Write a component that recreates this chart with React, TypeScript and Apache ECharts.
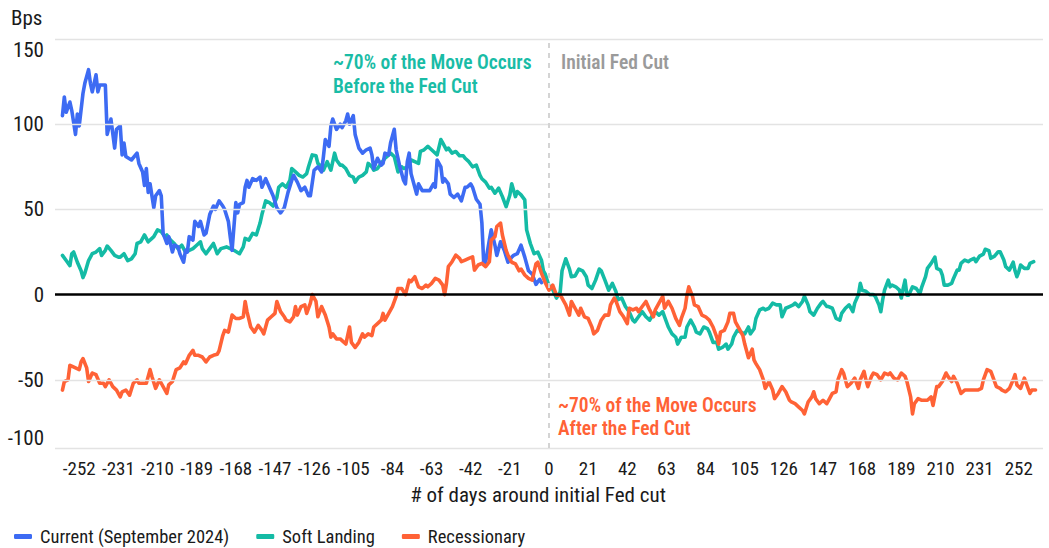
import React, { useEffect, useRef } from "react";
import * as echarts from "echarts";

// ---------- data ----------
const currentDays = [-261,-260,-259,-257,-256,-254,-253,-252,-250,-249,-247,-246,-245,-243,-242,-241,-238,-237,-235,-233,-232,-230,-229,-228,-227,-224,-221,-220,-218,-217,-216,-215,-214,-212,-211,-209,-208,-207,-205,-204,-202,-201,-199,-198,-196,-195,-194,-193,-191,-190,-188,-187,-185,-184,-182,-180,-179,-177,-175,-174,-172,-171,-170,-168,-167,-166,-164,-163,-162,-161,-159,-157,-155,-154,-152,-150,-148,-146,-144,-142,-140,-138,-137,-135,-133,-131,-129,-128,-126,-124,-122,-121,-120,-118,-117,-116,-114,-112,-111,-109,-108,-107,-105,-104,-102,-100,-98,-96,-95,-94,-92,-90,-89,-88,-86,-85,-83,-82,-80,-78,-77,-76,-75,-74,-72,-71,-70,-68,-66,-64,-62,-61,-60,-58,-57,-56,-54,-53,-51,-49,-47,-45,-44,-42,-41,-39,-37,-36,-35,-34,-32,-31,-29,-28,-26,-24,-22,-20,-19,-17,-15,-13,-11,-9,-7,-5,-4];
const currentVals = [105,116,107,113,108,94,106,99,118,124,132,124,119,129,119,123,123,94,103,86,97,99,82,89,81,79,83,77,72,64,74,60,65,51,58,61,58,36,30,34,25,29,28,24,19,26,25,34,32,43,40,43,35,36,47,52,50,55,52,50,43,34,26,54,48,53,54,63,67,63,68,67,69,63,68,63,58,51,48,51,60,67,70,66,61,63,58,58,73,75,72,81,91,87,99,103,97,100,98,102,106,100,105,94,86,83,85,86,82,74,80,76,77,83,82,89,97,85,75,67,65,78,83,71,63,59,65,61,61,61,65,63,79,75,66,68,65,59,57,59,55,63,63,65,63,56,53,42,18,19,32,38,29,23,31,26,19,22,23,24,29,22,14,12,6,9,7];

const softDays = [-261,-259,-257,-256,-255,-253,-251,-250,-249,-247,-245,-243,-241,-240,-238,-237,-235,-233,-231,-230,-228,-226,-224,-222,-221,-219,-217,-215,-213,-212,-210,-208,-206,-205,-203,-201,-199,-197,-195,-193,-191,-189,-187,-186,-184,-182,-180,-178,-176,-173,-171,-169,-166,-164,-163,-161,-159,-157,-155,-154,-152,-150,-148,-146,-145,-143,-141,-139,-138,-136,-134,-132,-130,-129,-127,-125,-124,-122,-121,-119,-117,-115,-114,-112,-111,-109,-107,-105,-104,-102,-100,-98,-97,-95,-94,-92,-90,-88,-87,-85,-83,-81,-79,-78,-76,-74,-72,-70,-69,-67,-65,-63,-62,-60,-58,-57,-55,-54,-52,-50,-48,-46,-45,-43,-41,-39,-37,-36,-34,-32,-31,-29,-27,-25,-23,-21,-20,-18,-17,-15,-13,-12,-10,-8,-6,-4,-3,-2,0,2,4,6,7,9,11,12,14,16,18,20,21,23,25,27,28,30,32,34,36,37,39,41,43,45,46,48,50,52,54,55,57,59,61,62,64,66,68,69,71,73,74,76,78,79,81,83,85,86,88,90,91,93,95,96,98,99,101,103,105,107,108,110,111,113,115,116,118,120,122,124,125,127,129,131,132,134,136,137,139,140,142,144,146,147,149,150,152,154,156,157,159,161,163,164,166,167,168,170,172,174,175,177,178,179,180,182,183,184,186,188,189,190,191,192,193,195,197,199,200,202,203,205,207,208,210,211,212,214,216,217,219,220,221,223,225,226,228,229,231,233,234,236,237,239,241,242,244,245,247,249,250,251,252,253,255,257,258,260];
const softVals = [23,20,17,24,25,19,14,10,12.5,20,24,25,27,23,26,28.5,26,23,22,22,24,20,21,24,30,31,35,31,33,34,38,37,34,35,32,30,27,29,25,26,27,29,31,27,24,27,30,24,27,28,27,26,24,28,33,32,36,35,42,47,55,54,52,57,63,65,63,67,74,72,70,69,71,75,82,81.5,77,75,73,78,73,83,79,76,76,74,70,69,66,69,70,72,77,75,73,74,77,80,81,83,81,72,75,74,75,79,78,77,84,85,87,85,84,82,91,89,85,86,83,84,81.5,81.5,80,78,75,76,70,68,66,62.5,63,59.5,62.5,57.5,51.6,58.5,65,57.5,60.5,58.5,55.6,38,30,24,25,20,14,12,5,3,-2,1.5,14,21,15,10.5,11,15,14,10.5,5.6,3.6,8.5,15,14,8.5,2.6,6.6,1.5,-3,-2,-7,-10,-15,-16,-13,-10,-13,-15,-13,-10,-12,-10,-13,-19,-23,-25,-29,-25,-25,-19,-15,-19,-22,-23,-19,-20,-22,-28,-28,-32,-31,-29,-32,-29,-25,-21,-22,-23,-19,-23,-20,-14,-9,-8,-9,-8,-5,-6,-6,-13,-8,-7,-6,-5,-7,-4,-1,-6,-10,-12,-8,-5,-4,-7,-7,-8,-14,-15,-11,-8,-6,-10,-5,0,6.6,2.6,2,0,0,-1,-6,-10,-3,2.6,8.5,4.6,5.6,4.6,2.6,-2,3.6,8.5,-0.3,-0.3,4.6,3.6,0.6,4.6,10.5,15.4,18.3,22,15.4,14.4,11.5,5.6,5.6,6.6,9.5,14.4,14.4,18.3,20.3,19.3,20.3,21.3,19.3,22.6,23.8,26.6,25.8,21.3,22.6,25.2,25.2,20.3,16.4,14.4,19,14,10.5,13.4,17.4,15.4,15.4,18.3,19.3];

const recessDays = [-261,-260,-258,-257,-256,-254,-252,-251,-250,-248,-247,-245,-243,-241,-239,-238,-236,-234,-232,-230,-229,-227,-225,-223,-221,-220,-218,-216,-214,-213,-211,-209,-208,-205,-204,-202,-200,-198,-196,-195,-193,-191,-190,-188,-186,-184,-182,-180,-178,-177,-175,-174,-172,-170,-168,-166,-164,-163,-162,-160,-158,-156,-154,-153,-151,-149,-147,-146,-144,-142,-141,-139,-137,-136,-135,-133,-131,-130,-128,-127,-125,-124,-122,-120,-118,-117,-116,-114,-112,-111,-109,-107,-106,-104,-102,-100,-99,-97,-95,-94,-92,-90,-89,-88,-86,-84,-82,-81,-79,-77,-75,-74,-72,-70,-68,-66,-65,-63,-61,-59,-57,-56,-55,-54,-52,-50,-48,-47,-45,-43,-41,-40,-38,-36,-34,-32,-31,-29,-28,-26,-25,-23,-22,-20,-18,-16,-15,-13,-11,-9,-7,-6,-4,-2,0,2,4,6,7,9,11,12,14,16,17,19,21,23,24,26,28,30,32,33,35,36,38,40,42,43,45,47,48,50,52,54,56,57,59,61,62,64,66,68,70,71,73,74,75,77,78,80,82,84,86,88,90,91,92,94,96,97,99,100,102,104,105,107,109,110,111,113,115,116,118,120,121,123,125,127,129,130,132,134,136,137,139,141,142,143,145,147,149,150,152,154,155,157,158,160,162,164,166,167,169,170,171,173,174,176,178,180,182,183,185,187,189,191,192,194,195,196,198,200,201,203,205,206,208,209,211,213,214,216,217,219,221,223,225,226,228,230,232,233,235,237,238,240,242,243,245,247,249,250,251,253,255,256,258,259,261];
const recessVals = [-56,-51,-50,-41.5,-42,-43,-44,-39.5,-37.5,-43,-51,-46,-47,-52,-52,-54,-50,-54,-56,-60,-57,-56,-59,-52,-50,-52,-52,-52,-44,-48,-55,-50,-52,-58,-53,-51,-44,-43,-39.5,-40.5,-35.6,-32.7,-35.6,-35.6,-36.6,-39.5,-36.6,-35.6,-35,-33,-24,-21,-22,-12,-14,-14,-13,-4,-10,-19,-22,-18,-21,-23,-15,-13,-11,-4,-10,-13,-15,-16,-13,-7,-12,-7,-6,-11,-5,0,-4,-13,-7,-12,-19,-25,-23,-26,-26,-27,-29,-19,-28,-31,-28,-23,-25,-23,-24,-19,-17,-15,-11,-15,-11,-7,-1,3.6,3.6,0,8.5,7.6,10.5,4.6,3.6,5.6,4.6,6.6,9.5,8.5,5.6,0,6.6,16.4,19.3,23.2,21.3,19.3,20.3,21.3,22.2,14.4,17.4,18.3,16.4,19.3,32,34,40,42,35,26,23,19,18,14,15,11.5,9.5,8.5,18,19,12.5,7,2.6,5.6,-0.3,-0.3,-2,-6,-12,-4,-8,-12,-8,-13,-14,-19,-23,-21,-15,-12,-12,-6,-2,-4,-10,-13,-17,-8,-9,-8,-10,-7,-4,-9,-13,-9,-5,-1,-8,-4,-8,-14,-18,-14,-8,-0.3,4.6,-1,-6,-7,-12,-13,-15,-19,-25,-29,-22,-21,-16,-11,-11,-16,-20,-24,-29,-37,-32,-38.5,-40.5,-44,-50,-55,-51,-56,-61,-58,-54,-57,-62,-63,-64,-66,-68,-70,-63,-60,-57,-61,-64,-62,-64,-62,-58,-57,-50,-44,-46,-54,-52,-49,-55,-50,-45,-50,-54,-48,-46,-47,-50,-46,-47,-46,-49,-50,-46,-48,-51,-60,-70,-64,-61,-62,-62,-62,-60,-65,-54,-54,-51,-46,-48,-51,-48,-52,-58,-56,-56,-56,-56,-56,-55,-50,-44,-45,-48,-54,-55,-56,-57,-55,-50,-47,-53,-55,-49,-52,-58,-56,-56];

const xTickValues = [-252,-231,-210,-189,-168,-147,-126,-105,-84,-63,-42,-21,0,21,42,63,84,105,126,147,168,189,210,231,252];
// y-axis: plot bottom sits at -90 but carries the "-100" label, as in the source chart
const yTickValues = [-90, -50, 0, 50, 100, 150];
const yTickLabels = ["-100", "-50", "0", "50", "100", "150"];

const seriesNames = ["Current (September 2024)", "Soft Landing", "Recessionary"];
const seriesColors = ["#3D6BF3", "#14BBA5", "#FF6236"];

const FONT = '"Liberation Sans Narrow", "Roboto Condensed", Roboto, sans-serif';

const zip = (xs: number[], ys: number[]) => xs.map((x, i) => [x, ys[i]]);

export default function App() {
  const ref = useRef<HTMLDivElement>(null);
  useEffect(() => {
    if (!ref.current) return;
    const chart = echarts.init(ref.current, undefined, { renderer: "svg" });
    const lineSeries = (name: string, color: string, data: number[][]) => ({
      name,
      type: "line",
      data,
      showSymbol: false,
      symbol: "none",
      z: 3,
      lineStyle: { color, width: 3.6, join: "round", cap: "round" },
      itemStyle: { color },
    });
    const gridLines = yTickValues
      .filter((v) => v !== 0)
      .map((v) => ({ yAxis: v, lineStyle: { type: "solid", color: "#e3e3e3", width: 1.3 } }));
    chart.setOption({
      animation: false,
      textStyle: { fontFamily: FONT },
      grid: { left: 55, right: 6, top: 39, bottom: 100, containLabel: false },
      xAxis: {
        type: "value",
        min: -265,
        max: 265,
        axisLine: { show: false },
        axisTick: { show: false },
        splitLine: { show: false },
        axisLabel: { customValues: xTickValues, fontSize: 19, color: "#1a1a1a", margin: 11, fontFamily: FONT },
        name: "# of days around initial Fed cut",
        nameLocation: "middle",
        nameGap: 36,
        nameTextStyle: { fontSize: 21, color: "#1a1a1a", fontFamily: FONT, padding: [0, 22, 0, 0] },
      },
      yAxis: {
        type: "value",
        min: -90,
        max: 150,
        axisLine: { show: false },
        axisTick: { show: false },
        splitLine: { show: false },
        axisLabel: {
          customValues: yTickValues,
          formatter: (v: number) => yTickLabels[yTickValues.indexOf(v)] ?? String(v),
          fontSize: 21,
          color: "#1a1a1a",
          margin: 11,
          fontFamily: FONT,
          verticalAlignMinLabel: "bottom",
          verticalAlignMaxLabel: "top",
        },
      },
      legend: {
        data: seriesNames,
        left: 14,
        top: 527,
        padding: 0,
        icon: "roundRect",
        itemWidth: 18,
        itemHeight: 5,
        itemGap: 27,
        textStyle: { fontSize: 18.5, color: "#1a1a1a", fontFamily: FONT, padding: [0, 0, 0, 3] },
      },
      graphic: [
        { type: "text", left: 11, top: 7, style: { text: "Bps", fontSize: 21, fill: "#1a1a1a", fontFamily: FONT } },
        {
          type: "text", left: 333, top: 50,
          style: { text: "~70% of the Move Occurs\nBefore the Fed Cut", fontSize: 19.5, lineHeight: 24, fontWeight: 600, fill: "#19BCA6", fontFamily: FONT },
        },
        {
          type: "text", left: 561, top: 50,
          style: { text: "Initial Fed Cut", fontSize: 19.5, lineHeight: 24, fontWeight: 600, fill: "#9a9a9a", fontFamily: FONT },
        },
        {
          type: "text", left: 558, top: 394,
          style: { text: "~70% of the Move Occurs\nAfter the Fed Cut", fontSize: 19.5, lineHeight: 23, fontWeight: 600, fill: "#FF6236", fontFamily: FONT },
        },
      ],
      series: [
        {
          name: "refLines",
          type: "line",
          data: [],
          z: 1,
          silent: true,
          markLine: {
            silent: true,
            symbol: "none",
            label: { show: false },
            data: [
              ...gridLines,
              { xAxis: 0, lineStyle: { type: [5, 5], color: "#d4d4d4", width: 2 } },
              { yAxis: 0, lineStyle: { type: "solid", color: "#000000", width: 2.5 } },
            ],
          },
        },
        lineSeries(seriesNames[1], seriesColors[1], zip(softDays, softVals)),
        lineSeries(seriesNames[0], seriesColors[0], zip(currentDays, currentVals)),
        lineSeries(seriesNames[2], seriesColors[2], zip(recessDays, recessVals)),
      ],
    });
    return () => chart.dispose();
  }, []);
  return <div ref={ref} style={{ width: 1049, height: 548, position: "absolute", left: 0, top: 0 }} />;
}
